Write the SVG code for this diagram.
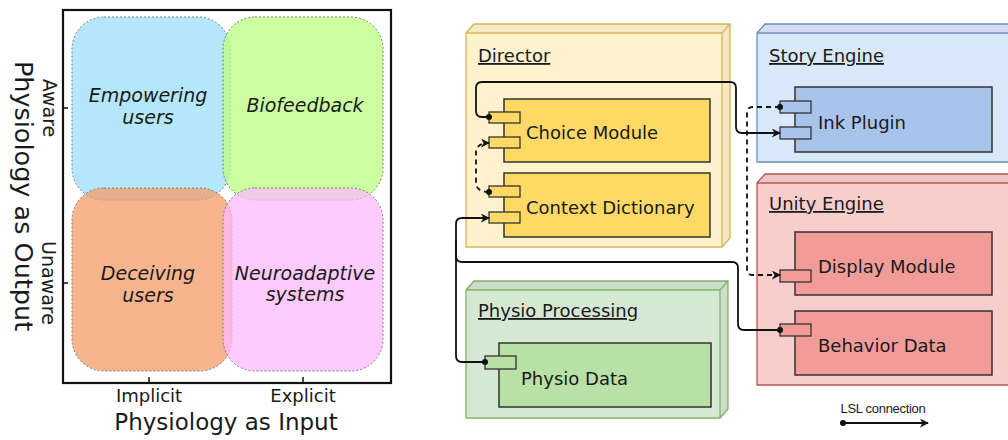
<svg xmlns="http://www.w3.org/2000/svg" width="1008" height="440" viewBox="0 0 1008 440">
<style>
.q{stroke:#7a7a7a;stroke-width:1;stroke-dasharray:2,2;fill-opacity:0.75}
.qt{font-family:"DejaVu Sans",sans-serif;font-style:italic;font-size:19px;fill:#1a1a1a;text-anchor:middle}
.ax{font-family:"DejaVu Sans",sans-serif;fill:#1a1a1a;text-anchor:middle}
.lbl{font-family:"DejaVu Sans",sans-serif;font-size:18px;fill:#1a1a1a;text-decoration:underline}
.ct{font-family:"DejaVu Sans",sans-serif;font-size:18px;fill:#1a1a1a}
.comp{stroke:#333;stroke-width:1.5}
.port{stroke:#333;stroke-width:1.3}
.shade{fill:#000;fill-opacity:0.04}
.c{fill:none;stroke:#111;stroke-width:1.8}
.d{fill:none;stroke:#111;stroke-width:1.8;stroke-dasharray:5,4}
</style>
<defs>
<marker id="arr" viewBox="0 0 10 10" refX="9" refY="5" markerWidth="9" markerHeight="9" markerUnits="userSpaceOnUse" orient="auto"><path d="M0,0 L10,5 L0,10 L3,5 Z" fill="#111"/></marker>
<marker id="dot" viewBox="0 0 10 10" refX="5" refY="5" markerWidth="6" markerHeight="6" markerUnits="userSpaceOnUse" orient="auto"><circle cx="5" cy="5" r="5" fill="#111"/></marker>
</defs>
<rect width="1008" height="440" fill="#fff"/>

<!-- Left quadrant chart -->
<g id="quadrants">
<rect id="q-empowering" class="q" x="72" y="17" width="158" height="183" rx="32" fill="#9bdffa"/>
<rect id="q-biofeedback" class="q" x="223" y="17" width="160" height="183" rx="32" fill="#bbff80"/>
<rect id="q-deceiving" class="q" x="72" y="188" width="160" height="183" rx="32" fill="#f49c68"/>
<rect id="q-neuro" class="q" x="223" y="188" width="160" height="183" rx="32" fill="#fcbafc"/>
</g>
<g id="frame">
<rect x="63" y="10" width="328" height="373" fill="none" stroke="#111" stroke-width="2.2"/>
<path d="M63,108 H68 M63,283 H68 M149,383 V377 M303,383 V377" stroke="#111" stroke-width="1.5"/>
</g>
<g id="quadrant-labels">
<text class="qt" x="148" y="102">Empowering</text>
<text class="qt" x="148" y="124">users</text>
<text class="qt" x="305" y="112">Biofeedback</text>
<text class="qt" x="148" y="280">Deceiving</text>
<text class="qt" x="148" y="302">users</text>
<text class="qt" x="305" y="280">Neuroadaptive</text>
<text class="qt" x="305" y="301">systems</text>
</g>
<g id="axis-labels">
<text class="ax" font-size="19" transform="translate(43,108) rotate(90)">Aware</text>
<text class="ax" font-size="19" transform="translate(42,283) rotate(90)">Unaware</text>
<text class="ax" font-size="25.5" transform="translate(15,196) rotate(90)">Physiology as Output</text>
<text class="ax" font-size="18" x="149" y="402">Implicit</text>
<text class="ax" font-size="18" x="303" y="402">Explicit</text>
<text class="ax" font-size="23" x="226" y="430">Physiology as Input</text>
</g>

<!-- Right component diagram -->
<g id="director">
<path d="M466,33 L474,24 H730 V238 L722,247 H466 Z" fill="#fff2cc" stroke="#d6b656" stroke-width="1.3"/>
<path class="shade" d="M466,33 L474,24 H730 L722,33 Z M722,33 L730,24 V238 L722,247 Z"/>
<path d="M466,33 H722 V247 M722,33 L730,24" fill="none" stroke="#d6b656" stroke-width="1.3"/>
<text class="lbl" x="478" y="62">Director</text>
</g>
<g id="choice-module">
<rect class="comp" x="504" y="99" width="206" height="63" fill="#ffd966"/>
<rect class="port" x="489" y="112" width="31" height="11" fill="#ffd966"/>
<rect class="port" x="489" y="137" width="31" height="11" fill="#ffd966"/>
<text class="ct" x="526" y="139">Choice Module</text>
</g>
<g id="context-dictionary">
<rect class="comp" x="504" y="173" width="206" height="64" fill="#ffd966"/>
<rect class="port" x="489" y="186" width="31" height="11" fill="#ffd966"/>
<rect class="port" x="489" y="212" width="31" height="11" fill="#ffd966"/>
<text class="ct" x="526" y="214">Context Dictionary</text>
</g>

<g id="story-engine">
<path d="M757,33 L765,24 H1016 V162 H757 Z" fill="#dae8fc" stroke="#6c8ebf" stroke-width="1.3"/>
<path class="shade" d="M757,33 L765,24 H1016 V33 Z"/>
<path d="M757,33 H1016" fill="none" stroke="#6c8ebf" stroke-width="1.3"/>
<text class="lbl" x="769" y="62">Story Engine</text>
</g>
<g id="ink-plugin">
<rect class="comp" x="795" y="87" width="197" height="65" fill="#a9c4eb"/>
<rect class="port" x="780" y="101" width="31" height="12" fill="#a9c4eb"/>
<rect class="port" x="780" y="127" width="31" height="12" fill="#a9c4eb"/>
<text class="ct" x="818" y="129">Ink Plugin</text>
</g>

<g id="unity-engine">
<path d="M757,183 L765,174 H1016 V385 H757 Z" fill="#f8cecc" stroke="#b85450" stroke-width="1.3"/>
<path class="shade" d="M757,183 L765,174 H1016 V183 Z"/>
<path d="M757,183 H1016" fill="none" stroke="#b85450" stroke-width="1.3"/>
<text class="lbl" x="769" y="210">Unity Engine</text>
</g>
<g id="display-module">
<rect class="comp" x="795" y="232" width="197" height="63" fill="#f19c99"/>
<rect class="port" x="780" y="270" width="31" height="12" fill="#f19c99"/>
<text class="ct" x="818" y="273">Display Module</text>
</g>
<g id="behavior-data">
<rect class="comp" x="795" y="311" width="197" height="64" fill="#f19c99"/>
<rect class="port" x="780" y="324" width="31" height="12" fill="#f19c99"/>
<text class="ct" x="818" y="352">Behavior Data</text>
</g>

<g id="physio-processing">
<path d="M466,290 L474,281 H728 V409 L720,418 H466 Z" fill="#d5e8d4" stroke="#82b366" stroke-width="1.3"/>
<path class="shade" d="M466,290 L474,281 H728 L720,290 Z M720,290 L728,281 V409 L720,418 Z"/>
<path d="M466,290 H720 V418 M720,290 L728,281" fill="none" stroke="#82b366" stroke-width="1.3"/>
<text class="lbl" x="478" y="317">Physio Processing</text>
</g>
<g id="physio-data">
<rect class="comp" x="499" y="343" width="212" height="64" fill="#b9e0a5"/>
<rect class="port" x="485" y="356" width="31" height="13" fill="#b9e0a5"/>
<text class="ct" x="521" y="385">Physio Data</text>
</g>

<g id="connectors">
<path class="c" marker-start="url(#dot)" marker-end="url(#arr)" d="M489,117 H482 Q476,117 476,111 V88 Q476,82 482,82 H730 Q736,82 736,88 V127 Q736,133 742,133 H780"/>
<path class="d" marker-start="url(#dot)" marker-end="url(#arr)" d="M780,107 H753 Q747,107 747,113 V269 Q747,275 753,275 H780"/>
<path class="d" marker-start="url(#dot)" marker-end="url(#arr)" d="M489,192 Q476,192 476,182 V153 Q476,143 489,143"/>
<path class="c" marker-start="url(#dot)" marker-end="url(#arr)" d="M485,362 H462 Q456,362 456,356 V224 Q456,218 462,218 H489"/>
<path class="c" marker-start="url(#dot)" d="M780,330 H744 Q738,330 738,324 V268 Q738,262 732,262 H462 Q456,262 456,256 V240"/>
</g>

<g id="legend">
<text x="883" y="413" font-family="Liberation Sans, Arial, sans-serif" font-size="13" fill="#1a1a1a" text-anchor="middle" letter-spacing="-0.3">LSL connection</text>
<path class="c" stroke-width="1.6" marker-start="url(#dot)" marker-end="url(#arr)" d="M843,423 H928"/>
</g>
</svg>
